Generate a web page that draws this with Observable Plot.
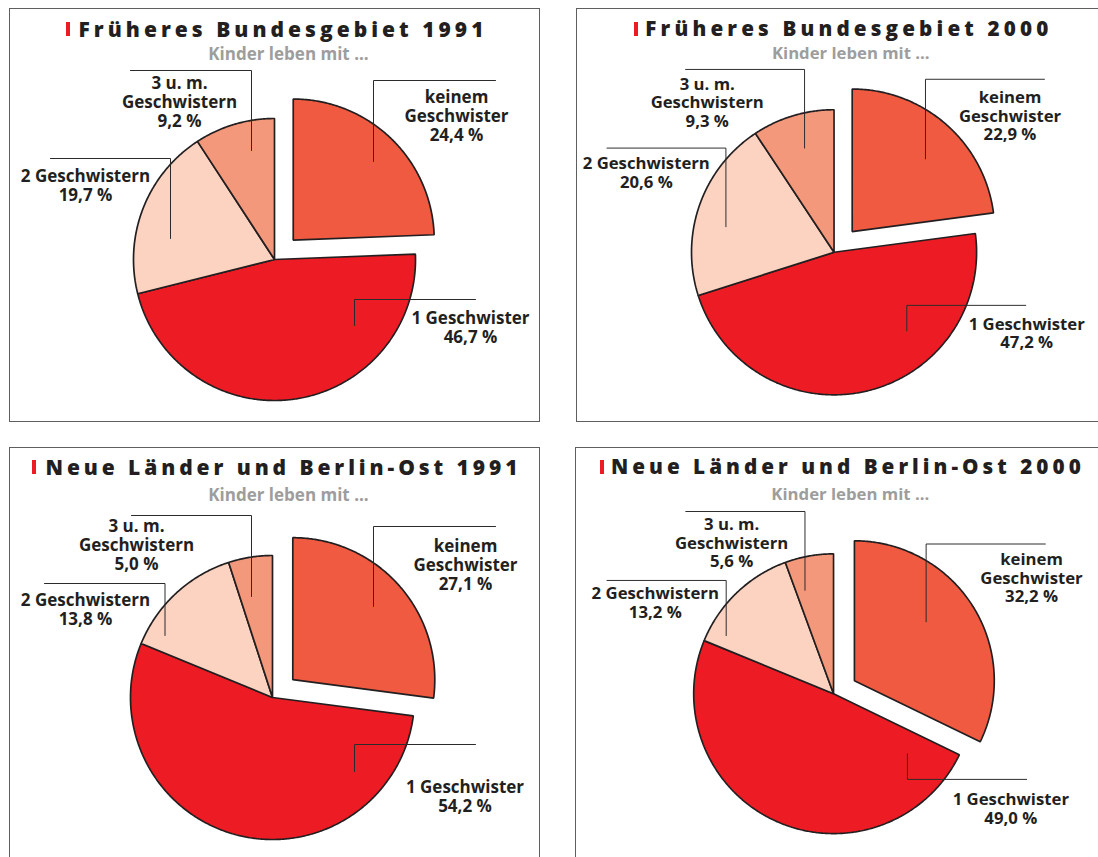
<!DOCTYPE html>
<html><head><meta charset="utf-8">
<script src="https://cdn.jsdelivr.net/npm/d3@7"></script>
<script src="https://cdn.jsdelivr.net/npm/@observablehq/plot@0.6"></script>
<style>
html,body{margin:0;padding:0;background:#fff;overflow:hidden;width:1098px;height:857px;}
#root{position:relative;width:1098px;height:857px;overflow:hidden;font-family:"Open Sans",sans-serif;}
.frame{position:absolute;border:1px solid #5e5e5e;box-sizing:border-box;}
.panel{position:absolute;}
.bar{position:absolute;background:#ed1c24;}
</style></head><body><div id="root"></div>
<script>
// ---- data ----
const categories = ["keinem Geschwister", "1 Geschwister", "2 Geschwistern", "3 u. m. Geschwistern"];
const labelTexts = ["keinem\nGeschwister", "1 Geschwister", "2 Geschwistern", "3 u. m.\nGeschwistern"];
const panelTitles = ["Früheres Bundesgebiet 1991", "Früheres Bundesgebiet 2000", "Neue Länder und Berlin-Ost 1991", "Neue Länder und Berlin-Ost 2000"];
const subtitleText = "Kinder leben mit ...";
const valuesFB1991 = [24.4, 46.7, 19.7, 9.2];
const valuesFB2000 = [22.9, 47.2, 20.6, 9.3];
const valuesNL1991 = [27.1, 54.2, 13.8, 5.0];
const valuesNL2000 = [32.2, 49.0, 13.2, 5.6];
const panelValues = [valuesFB1991, valuesFB2000, valuesNL1991, valuesNL2000];

// ---- style / layout (page pixels) ----
const sliceColors = ["#ef5a40", "#ed1c24", "#fcd3c1", "#f4987b"];
const layouts = [
  {frame:[9,8,531,414], pie:[274,259,141], explode:27, bar:[66,22,4,14], title:[78,36,405], sub:[288,59],
   leaders:[[[373,161],[373,80],[495,80]], [[354,325],[354,299],[475,299]], [[170,238],[170,158],[50,158]], [[251,150],[251,70],[130,70]]],
   labels:[[456,115.5],[470,326.5],[85,185],[179,101]]},
  {frame:[576,8,531,414], pie:[838,256,145], explode:28, bar:[634,22,4,14], title:[646,36,410], sub:[855,59],
   leaders:[[[931,161],[931,80],[1052,80]], [[912,336],[912,310],[1033,310]], [[728,230],[728,150],[607,150]], [[808,150],[808,70],[687,70]]],
   labels:[[1017,117],[1034,338],[647,174.5],[709,103.5]]},
  {frame:[9,447,531,414], pie:[272,697,142], explode:27, bar:[32,460,4,14], title:[45,474,472], sub:[288,500],
   leaders:[[[373,606],[373,526],[495,526]], [[354,771],[354,744],[475,744]], [[164.5,635],[164.5,583],[44,583]], [[251,596],[251,515],[131,515]]],
   labels:[[465,564],[464.5,795.5],[85,608.5],[136,544.5]]},
  {frame:[575,447,531,414], pie:[837,697,142], explode:25, bar:[600,460,4,14], title:[611,474,477], sub:[854,500],
   leaders:[[[931,624],[931,545],[1052,545]], [[912,758],[912,784],[1033,784]], [[728,638],[728,582],[607,582]], [[808,592],[808,512],[687,512]]],
   labels:[[1038,579],[1017,813.5],[656,604.5],[733.5,543.5]]}
];

const fmt = v => v.toFixed(1).replace(".", ",") + " %";
const root = document.getElementById("root");

function slicePolys(values, explodeUnits) {
  const arcs = d3.pie().sort(null).value(d => d)(values);
  return arcs.map((a, i) => {
    const mid = (a.startAngle + a.endAngle) / 2;
    const off = i === 0 ? explodeUnits : 0;
    const ox = off * Math.sin(mid), oy = -off * Math.cos(mid);
    const n = Math.max(2, Math.ceil((a.endAngle - a.startAngle) / (Math.PI / 360)));
    const pts = [{x: ox, y: oy}];
    for (let k = 0; k <= n; k++) {
      const t = a.startAngle + (a.endAngle - a.startAngle) * k / n;
      pts.push({x: ox + Math.sin(t), y: oy - Math.cos(t)});
    }
    return pts;
  });
}

layouts.forEach((L, p) => {
  const [fx, fy, W, H] = L.frame;
  const [cx, cy, R] = L.pie;
  const frame = document.createElement("div");
  frame.className = "frame";
  Object.assign(frame.style, {left: fx + "px", top: fy + "px", width: W + "px", height: H + "px"});
  root.appendChild(frame);

  const ux = px => (px - cx) / R, uy = py => (py - cy) / R;
  const values = panelValues[p];
  const polys = slicePolys(values, L.explode / R);

  const marks = [];
  polys.forEach((pts, i) => {
    marks.push(Plot.line(pts, {x: "x", y: "y", curve: "linear-closed", fill: sliceColors[i],
      stroke: "#231f20", strokeWidth: 1.7, strokeLinejoin: "miter"}));
  });
  L.leaders.forEach(pts => {
    marks.push(Plot.line(pts, {x: d => ux(d[0]), y: d => uy(d[1]), stroke: "#2b2b2b", strokeWidth: 1}));
  });
  const labelData = categories.map((c, i) => ({text: labelTexts[i] + "\n" + fmt(values[i]), x: ux(L.labels[i][0]), y: uy(L.labels[i][1])}));
  marks.push(Plot.text(labelData, {x: "x", y: "y", text: "text", fontSize: 17, fontWeight: 700, lineHeight: 1.12,
    fill: "#231f20", textAnchor: "middle", lineAnchor: "middle"}));
  marks.push(Plot.text([panelTitles[p]], {frameAnchor: "top-left", dx: L.title[0] - fx, dy: L.title[1] - fy,
    textAnchor: "start", lineAnchor: "bottom", fontSize: 21, fontWeight: 800, fill: "#231f20"}));
  marks.push(Plot.text([subtitleText], {frameAnchor: "top-left", dx: L.sub[0] - fx, dy: L.sub[1] - fy,
    textAnchor: "middle", lineAnchor: "bottom", fontSize: 17, fontWeight: 700, fill: "#9d9d9d"}));

  const svg = Plot.plot({
    width: W, height: H, margin: 0,
    x: {domain: [ux(fx), ux(fx + W)], range: [0, W], axis: null},
    y: {domain: [uy(fy), uy(fy + H)], range: [0, H], axis: null},
    style: {background: "transparent", fontFamily: "'Open Sans', sans-serif", overflow: "visible"},
    marks
  });
  d3.select(svg).selectAll("text")
    .filter(function() { return this.textContent === panelTitles[p]; })
    .attr("textLength", L.title[2]).attr("lengthAdjust", "spacing");
  const holder = document.createElement("div");
  holder.className = "panel";
  Object.assign(holder.style, {left: fx + "px", top: fy + "px"});
  holder.appendChild(svg);
  root.appendChild(holder);

  const bar = document.createElement("div");
  bar.className = "bar";
  Object.assign(bar.style, {left: L.bar[0] + "px", top: L.bar[1] + "px", width: L.bar[2] + "px", height: L.bar[3] + "px"});
  root.appendChild(bar);
});
</script></body></html>
